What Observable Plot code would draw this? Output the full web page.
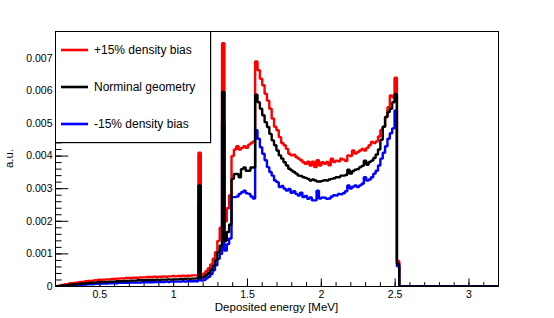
<!DOCTYPE html>
<html><head><meta charset="utf-8">
<script src="https://cdn.jsdelivr.net/npm/d3@7"></script>
<script src="https://cdn.jsdelivr.net/npm/@observablehq/plot@0.6"></script>
<style>body{margin:0;background:#fff}</style>
</head><body><div id="chart"></div>
<script>
// Histogram binning (MeV): lower edge of first bin and bin width
const binStart = 0.192;
const binWidth = 0.016;
const valueUnit = 1e-4; // values below are in units of 1e-4 a.u.

const seriesNames = ["+15% density bias", "Norminal geometry", "-15% density bias"];
const seriesColors = ["#ff0000", "#000000", "#0000ff"];

const redValues = [0.1,
 0.2,0.3,0.5,0.6,0.7,0.9,1.0,1.1,1.2,1.3,
 1.4,1.5,1.6,1.7,1.7,1.8,1.9,2.0,2.0,2.1,
 2.1,2.2,2.2,2.3,2.3,2.4,2.4,2.5,2.5,2.6,
 2.6,2.6,2.7,2.7,2.7,2.8,2.8,2.8,2.9,2.9,
 2.9,3.0,2.9,3.0,3.0,3.1,3.0,3.1,3.1,3.2,
 3.1,3.2,3.2,3.3,3.2,3.3,3.3,3.4,3.4,3.4,
 41,
 3.6,4.0,4.8,5.6,6.8,8.5,10.5,14,18,
 74.6,
 20,24,28,
 40,42,43,42,42.5,43,42.5,43.5,44,44.5,
 69,
 66.3,63.7,61.7,59.1,57,54.5,51.5,49,47.9,45.8,44,43.3,42.2,40.7,40.2,40.4,39.7,39.2,38.7,38.1,37.6,38.3,37.1,38.3,36.6,38.7,37.1,38.1,37.6,38.2,37.2,
 39.2,38.2,38.6,38.4,39.2,38.9,38.5,40.2,40.0,41.7,40.8,41.2,41.7,42.2,41.7,42.5,43.3,44.3,44.0,44.5,46,48,49,52,55,58.6,58,
 64,
 7.8,
 0];

const blackValues = [0.1,
 0.1,0.2,0.3,0.3,0.4,0.5,0.6,0.6,0.7,0.8,
 0.9,0.9,1.0,1.1,1.1,1.2,1.2,1.3,1.3,1.4,
 1.4,1.4,1.5,1.5,1.5,1.6,1.6,1.6,1.7,1.7,
 1.7,1.8,1.8,1.8,1.9,1.9,1.9,1.9,2.0,2.0,
 2.0,2.0,2.1,2.0,2.1,2.1,2.1,2.2,2.1,2.2,
 2.2,2.2,2.3,2.3,2.3,2.4,2.3,2.4,2.4,2.5,
 31,
 2.7,3.0,3.6,4.2,5.2,6.4,8.0,10.5,12.5,
 59.7,
 14,16.7,19,
 33,34.5,34.5,33.5,36,36.5,35.5,35.5,36.5,36.5,
 58.8,
 56.5,54.5,52.5,50.4,48.9,46.8,44.8,43.3,41.7,40.2,39.2,38.1,37.1,36.1,35.6,35.1,34.6,34.0,33.9,33.5,33.3,33.0,32.5,32.8,32.5,32.2,32.2,32.4,32.6,32.5,32.8,
 33.0,33.2,33.5,33.5,34.0,34.0,34.2,35.8,34.6,35.4,35.8,36.0,36.6,37.0,38.6,37.3,38.2,38.6,39.4,40.5,42.0,45,49,52,53.5,54.5,56.5,
 59,
 7.0,
 0];

const blueValues = [0.0,
 0.0,0.1,0.1,0.2,0.2,0.3,0.3,0.4,0.4,0.5,
 0.5,0.6,0.6,0.7,0.7,0.7,0.8,0.8,0.8,0.9,
 0.9,0.9,1.0,1.0,1.0,1.0,1.1,1.1,1.1,1.1,
 1.1,1.2,1.2,1.2,1.2,1.2,1.3,1.3,1.3,1.3,
 1.3,1.4,1.4,1.4,1.4,1.4,1.5,1.4,1.5,1.5,
 1.5,1.5,1.5,1.6,1.5,1.6,1.6,1.6,1.6,1.6,
 25,
 1.8,2.0,2.5,3.0,3.8,5.0,6.5,8.5,10,
 50,
 11,13,14.7,
 27.4,27.4,27.6,28.4,28.9,29.4,28.6,28.4,27.6,27,
 47.9,
 45.3,42.7,40.7,38.7,36.6,35.1,34.0,32.5,32.0,30.5,30.8,30.0,29.4,29.9,28.7,29.2,28.4,27.9,28.8,27.4,27.8,26.9,27.3,26.4,26.4,29.4,27.0,27.3,27.2,26.9,27.0,
 27.6,28.0,27.9,28.4,28.3,28.6,29.2,31.0,30.0,30.6,31.0,30.5,31.0,31.5,33.5,32.5,32.8,33.5,34.6,35.5,37.1,39.2,41.0,43.0,45.3,47.0,48.5,
 54,
 6.2,
 0];

const xDomain = [0.2, 3.2];
const yDomain = [0, 0.00782];
const xMajor = [0.5, 1, 1.5, 2, 2.5, 3];
const xMajorLabels = ["0.5", "1", "1.5", "2", "2.5", "3"];
const yMajor = [0, 0.001, 0.002, 0.003, 0.004, 0.005, 0.006, 0.007];
const yMajorLabels = ["0", "0.001", "0.002", "0.003", "0.004", "0.005", "0.006", "0.007"];
const xMinor = d3.range(2, 33).map(k => k / 10);
const yMinor = d3.range(0, 40).map(k => k * 0.0002);
const xTitle = "Deposited energy [MeV]";
const yTitle = "a.u.";

function toPoints(vals) {
  const pts = vals.map((v, i) => ({x: binStart + binWidth * i, y: v * valueUnit}));
  pts.push({x: xDomain[1], y: 0});
  return pts;
}
const redPts = toPoints(redValues);
const blackPts = toPoints(blackValues);
const bluePts = toPoints(blueValues);

const W = 554, H = 318, mL = 55, mR = 56, mT = 31, mB = 32;
const plotW = W - mL - mR, plotH = H - mT - mB;
const font = "'Liberation Sans', Arial, Helvetica, sans-serif";

const chart = Plot.plot({
  width: W, height: H,
  marginLeft: mL, marginRight: mR, marginTop: mT, marginBottom: mB,
  x: {domain: xDomain},
  y: {domain: yDomain},
  style: {fontFamily: font, fontSize: "10.5px", background: "white", color: "black", overflow: "visible"},
  marks: [
    Plot.ruleX(xMinor, {x: d => d, insetTop: plotH - 3.8, stroke: "black", strokeWidth: 1}),
    Plot.ruleX(xMajor, {x: d => d, insetTop: plotH - 7.6, stroke: "black", strokeWidth: 1}),
    Plot.ruleY(yMinor, {y: d => d, insetRight: plotW - 6.6, stroke: "black", strokeWidth: 1}),
    Plot.ruleY(yMajor, {y: d => d, insetRight: plotW - 13.3, stroke: "black", strokeWidth: 1}),
    Plot.axisX({ticks: xMajor, tickSize: 0, tickPadding: 4, label: null, fill: "black",
      tickFormat: d => xMajorLabels[xMajor.indexOf(d)]}),
    Plot.axisY({ticks: yMajor, tickSize: 0, tickPadding: 3, label: null, fill: "black",
      tickFormat: d => yMajorLabels[yMajor.indexOf(d)]}),
    Plot.frame({stroke: "black", strokeWidth: 1}),
    Plot.line(redPts, {x: "x", y: "y", curve: "step-after", stroke: seriesColors[0], strokeWidth: 2.4, strokeLinejoin: "miter", clip: true}),
    Plot.line(bluePts, {x: "x", y: "y", curve: "step-after", stroke: seriesColors[2], strokeWidth: 2.4, strokeLinejoin: "miter", clip: true}),
    Plot.line(blackPts, {x: "x", y: "y", curve: "step-after", stroke: seriesColors[1], strokeWidth: 2.4, strokeLinejoin: "miter", clip: true})
  ]
});

document.getElementById("chart").appendChild(chart);

// Axis titles and in-frame legend (ROOT style)
const svg = d3.select(chart);
svg.append("text").attr("x", mL + plotW / 2).attr("y", 311)
  .attr("text-anchor", "middle").attr("font-size", "11.5px").attr("fill", "black").text(xTitle);
svg.append("text").attr("transform", `translate(13,${mT + plotH / 2}) rotate(-90)`)
  .attr("text-anchor", "middle").attr("font-size", "11.5px").attr("fill", "black").text(yTitle);

const lg = svg.append("g");
lg.append("rect").attr("x", 56.5).attr("y", 32.5).attr("width", 155).attr("height", 111)
  .attr("fill", "#999").attr("stroke", "none");
lg.append("rect").attr("x", 55.5).attr("y", 31.5).attr("width", 155).attr("height", 111)
  .attr("fill", "white").attr("stroke", "black").attr("stroke-width", 1);
const rowY = [50, 87, 124];
seriesNames.forEach((name, k) => {
  lg.append("line").attr("x1", 61).attr("x2", 88).attr("y1", rowY[k]).attr("y2", rowY[k])
    .attr("stroke", seriesColors[k]).attr("stroke-width", 2.6);
  lg.append("text").attr("x", 94).attr("y", rowY[k]).attr("dy", "0.35em")
    .attr("text-anchor", "start")
    .attr("font-size", "12px").attr("fill", "black").text(name);
});
</script>
</body></html>
